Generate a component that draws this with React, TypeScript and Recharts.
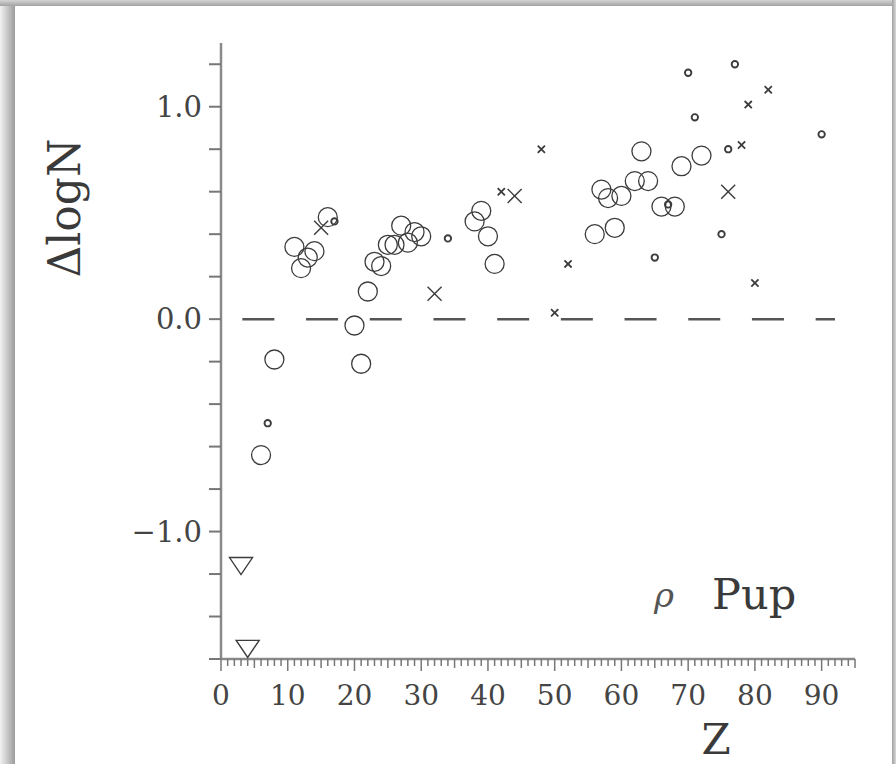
import React from 'react';
import {
  ScatterChart,
  Scatter,
  XAxis,
  YAxis,
  ReferenceLine,
  Customized,
} from 'recharts';

// ---- data (Z, ΔlogN) ----
const bigCircleZ = [6, 8, 11, 12, 13, 14, 16, 20, 21, 22, 23, 24, 25, 26, 27, 28, 29, 30, 38, 39, 40, 41, 56, 57, 58, 59, 60, 62, 63, 64, 66, 68, 69, 72];
const bigCircleDelta = [-0.64, -0.19, 0.34, 0.24, 0.29, 0.32, 0.48, -0.03, -0.21, 0.13, 0.27, 0.25, 0.35, 0.35, 0.44, 0.36, 0.41, 0.39, 0.46, 0.51, 0.39, 0.26, 0.40, 0.61, 0.57, 0.43, 0.58, 0.65, 0.79, 0.65, 0.53, 0.53, 0.72, 0.77];

const smallCircleZ = [7, 17, 34, 65, 67, 70, 71, 75, 76, 77, 90];
const smallCircleDelta = [-0.49, 0.46, 0.38, 0.29, 0.54, 1.16, 0.95, 0.40, 0.80, 1.20, 0.87];

const bigCrossZ = [15, 32, 44, 76];
const bigCrossDelta = [0.43, 0.12, 0.58, 0.60];

const smallCrossZ = [42, 48, 50, 52, 78, 79, 80, 82];
const smallCrossDelta = [0.60, 0.80, 0.03, 0.26, 0.82, 1.01, 0.17, 1.08];

const limitZ = [3, 4];
const limitDelta = [-1.16, -1.55];

const zeroLineStart = 3.2;
const zeroLineEnd = 92;

const xDomain = [0, 95];
const yDomain = [-1.6, 1.3];
const yTicks = [-1.6, -1.4, -1.2, -1.0, -0.8, -0.6, -0.4, -0.2, 0, 0.2, 0.4, 0.6, 0.8, 1.0, 1.2];
const yTickLabels: Record<string, string> = { '-1': '\u22121.0', '0': '0.0', '1': '1.0' };
const xTicks = Array.from({ length: 96 }, (_, i) => i);
const xTickLabels = [0, 10, 20, 30, 40, 50, 60, 70, 80, 90];

const zip = (zs: number[], ds: number[]) => zs.map((z, i) => ({ atomic: z, delta: ds[i] }));

const bigCircleData = zip(bigCircleZ, bigCircleDelta);
const smallCircleData = zip(smallCircleZ, smallCircleDelta);
const bigCrossData = zip(bigCrossZ, bigCrossDelta);
const smallCrossData = zip(smallCrossZ, smallCrossDelta);
const limitData = zip(limitZ, limitDelta);

const INK = '#3c3c3c';
const AXIS = '#8a8a8a';
const FONT = '"DejaVu Serif", serif';

const BigCircle = (p: any) => (
  <circle cx={p.cx} cy={p.cy} r={9.5} fill="none" stroke={INK} strokeWidth={1.3} />
);
const SmallCircle = (p: any) => (
  <circle cx={p.cx} cy={p.cy} r={3.2} fill="none" stroke={INK} strokeWidth={1.9} />
);
const BigCross = (p: any) => {
  const s = 7;
  return (
    <g stroke={INK} strokeWidth={1.4}>
      <line x1={p.cx - s} y1={p.cy - s} x2={p.cx + s} y2={p.cy + s} />
      <line x1={p.cx - s} y1={p.cy + s} x2={p.cx + s} y2={p.cy - s} />
    </g>
  );
};
const SmallCross = (p: any) => {
  const s = 3.6;
  return (
    <g stroke={INK} strokeWidth={1.8}>
      <line x1={p.cx - s} y1={p.cy - s} x2={p.cx + s} y2={p.cy + s} />
      <line x1={p.cx - s} y1={p.cy + s} x2={p.cx + s} y2={p.cy - s} />
    </g>
  );
};
const DownTriangle = (p: any) => (
  <polygon
    points={`${p.cx - 11.5},${p.cy - 8} ${p.cx + 11.5},${p.cy - 8} ${p.cx},${p.cy + 9}`}
    fill="none"
    stroke={INK}
    strokeWidth={1.4}
  />
);

const XTick = (props: any) => {
  const { x, y, payload } = props;
  const v = payload.value;
  const len = v % 10 === 0 ? 12 : v % 5 === 0 ? 9 : 7;
  return (
    <g>
      <line x1={x} y1={y} x2={x} y2={y + len} stroke="#777" strokeWidth={1.5} />
      {xTickLabels.includes(v) && (
        <text x={x} y={y + 46} textAnchor="middle" fill="#444" fontSize={28} fontFamily={FONT}>
          {v}
        </text>
      )}
    </g>
  );
};

const Annotations = () => (
  <g fontFamily={FONT} fill="#3a3a3a">
    <text x={80} y={208} transform="rotate(-90, 80, 208)" textAnchor="middle" fontSize={44}>
      ΔlogN
    </text>
    <text x={716} y={754} textAnchor="middle" fontSize={42}>
      Z
    </text>
    <text x={654} y={607} fontSize={34} fontStyle="italic" fill="#555">
      ρ
    </text>
    <text x={712} y={609} fontSize={43}>
      Pup
    </text>
  </g>
);

export default function App() {
  return (
    <div style={{ position: 'absolute', left: 0, top: 0, width: 896, height: 764, background: '#fff', overflow: 'hidden' }}>
      <div style={{ position: 'absolute', left: 0, top: 0, width: 15, height: 764, background: 'linear-gradient(to right, #f2f2f2, #9c9c9c)' }} />
      <div style={{ position: 'absolute', left: 0, top: 0, width: 896, height: 6, background: 'linear-gradient(to bottom, #d4d4d4, #a2a2a2)' }} />
      <div style={{ position: 'absolute', left: 892, top: 0, width: 4, height: 764, background: 'linear-gradient(to right, #a0a0a0, #d8d8d8)' }} />
      <div style={{ position: 'absolute', left: 0, top: 0 }}>
        <ScatterChart width={896} height={764} margin={{ top: 43, right: 41, bottom: 0, left: 0 }}>
          <XAxis
            xAxisId="b"
            type="number"
            dataKey="atomic"
            domain={xDomain}
            ticks={xTicks}
            interval={0}
            height={105}
            tickSize={0}
            tickMargin={0}
            tickLine={false}
            axisLine={{ stroke: AXIS, strokeWidth: 2.5 }}
            tick={<XTick />}
            allowDataOverflow
          />
          <XAxis
            xAxisId="t"
            orientation="top"
            type="number"
            domain={xDomain}
            height={0}
            tick={false}
            tickLine={false}
            axisLine={{ stroke: '#999', strokeWidth: 2 }}
            allowDataOverflow
          />
          <YAxis
            yAxisId="l"
            type="number"
            dataKey="delta"
            domain={yDomain}
            ticks={yTicks}
            interval={0}
            width={221}
            tickSize={12}
            tickMargin={7}
            tickLine={{ stroke: '#777', strokeWidth: 2 }}
            axisLine={{ stroke: AXIS, strokeWidth: 2.5 }}
            tickFormatter={(v: number) => yTickLabels[String(Math.round(v * 10) / 10)] ?? ''}
            tick={{ fill: '#444', fontSize: 29, fontFamily: FONT }}
            allowDataOverflow
          />
          <YAxis
            yAxisId="r"
            orientation="right"
            type="number"
            domain={yDomain}
            width={0}
            tick={false}
            tickLine={false}
            axisLine={{ stroke: '#999', strokeWidth: 2 }}
            allowDataOverflow
          />
          <ReferenceLine
            xAxisId="b"
            yAxisId="l"
            segment={[
              { x: zeroLineStart, y: 0 },
              { x: zeroLineEnd, y: 0 },
            ]}
            stroke="#555"
            strokeWidth={2.5}
            strokeDasharray="32 31.7"
          />
          <Scatter xAxisId="b" yAxisId="l" data={bigCircleData} shape={BigCircle} isAnimationActive={false} />
          <Scatter xAxisId="b" yAxisId="l" data={smallCircleData} shape={SmallCircle} isAnimationActive={false} />
          <Scatter xAxisId="b" yAxisId="l" data={bigCrossData} shape={BigCross} isAnimationActive={false} />
          <Scatter xAxisId="b" yAxisId="l" data={smallCrossData} shape={SmallCross} isAnimationActive={false} />
          <Scatter xAxisId="b" yAxisId="l" data={limitData} shape={DownTriangle} isAnimationActive={false} />
          <Customized component={Annotations} />
        </ScatterChart>
      </div>
    </div>
  );
}
